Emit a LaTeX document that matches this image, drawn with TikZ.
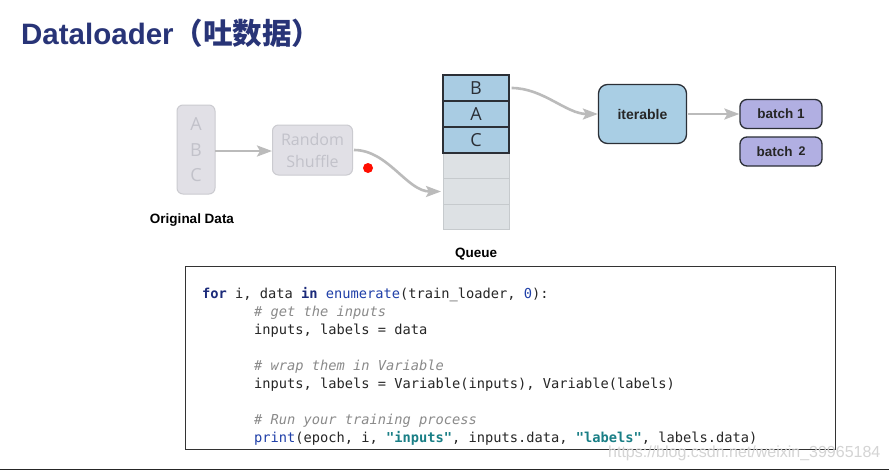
\documentclass[tikz,border=0pt]{standalone}
\usepackage{fontspec}
\setmainfont{Liberation Sans}
\newfontfamily\cjk{Noto Sans CJK SC}
\newfontfamily\codefont{DejaVu Sans Mono}
\newfontfamily\lettfont{Open Sans}
\usetikzlibrary{arrows.meta}
\definecolor{titlec}{HTML}{283477}
\definecolor{faintfill}{HTML}{E1E0E6}
\definecolor{faintdraw}{HTML}{CBCBD0}
\definecolor{fainttext}{HTML}{C2C2CA}
\definecolor{qblue}{HTML}{A9CCE3}
\definecolor{qgray}{HTML}{DDE1E4}
\definecolor{qgraydraw}{HTML}{C6CACD}
\definecolor{darkdraw}{HTML}{2B2F36}
\definecolor{itfill}{HTML}{A9CEE4}
\definecolor{batchfill}{HTML}{B1AFE2}
\definecolor{arrowc}{HTML}{BBBBBB}
\definecolor{kwc}{HTML}{1B2A7A}
\definecolor{fnc}{HTML}{1F3FA8}
\definecolor{cmc}{HTML}{8A8A8A}
\definecolor{strc}{HTML}{1A7F86}
\definecolor{wmark}{HTML}{D4D4D4}
\tikzset{
  faintbox/.style={draw=faintdraw, fill=faintfill, line width=1pt, rounded corners=6pt},
  qcell/.style={draw=darkdraw, fill=qblue, line width=1.1pt},
  qempty/.style={draw=qgraydraw, fill=qgray, line width=1pt},
  darkbox/.style={draw=darkdraw, line width=1.3pt, rounded corners=9pt},
  garrow/.style={draw=arrowc, line width=2.6pt, -{Stealth[length=15pt,width=11pt,inset=3pt]}},
  lbl/.style={font=\bfseries\fontsize{13.5}{15}\selectfont, inner sep=0pt},
  codeline/.style={anchor=base west, inner sep=0pt, font=\codefont\fontsize{13.7}{16}\selectfont, text=black!85},
}
\newcommand{\kw}[1]{\textcolor{kwc}{\bfseries #1}}
\newcommand{\fn}[1]{\textcolor{fnc}{#1}}
\newcommand{\cm}[1]{\textcolor{cmc}{\itshape #1}}
\newcommand{\st}[1]{\textcolor{strc}{\bfseries #1}}
\begin{document}
\begin{tikzpicture}[x=1pt,y=-1pt]
\useasboundingbox (0,0) rectangle (889,471);
\fill[white] (0,0) rectangle (889,471);

% title
\node[anchor=base west, inner sep=0pt, text=titlec, font=\bfseries\fontsize{29.5}{32}\selectfont] (title) at (21,44) {Dataloader{\cjk\bfseries （吐数据）}};

% original data
\draw[faintbox] (177,105) rectangle (215,194);
\node[inner sep=0pt, text=fainttext, font=\lettfont\fontsize{18}{20}\selectfont] (oA) at (196,124) {A};
\node[inner sep=0pt, text=fainttext, font=\lettfont\fontsize{18}{20}\selectfont] (oB) at (196,150) {B};
\node[inner sep=0pt, text=fainttext, font=\lettfont\fontsize{18}{20}\selectfont] (oC) at (196,175) {C};
\node[inner sep=0pt, minimum width=38pt, minimum height=89pt] (orig) at (196,149.5) {};
\node[lbl] (origlbl) at (192,220) {Original Data};

% random shuffle
\node[faintbox, minimum width=80pt, minimum height=50pt, inner sep=0pt, text=fainttext, align=center, font=\lettfont\fontsize{16}{22}\selectfont] (shuf) at (312.5,150) {Random\\Shuffle};

% queue
\node[qcell, minimum width=66pt, minimum height=26pt, inner sep=0pt, font=\lettfont\fontsize{18}{20}\selectfont, text=darkdraw] (qB) at (476,88) {B};
\node[qcell, minimum width=66pt, minimum height=26pt, inner sep=0pt, font=\lettfont\fontsize{18}{20}\selectfont, text=darkdraw] (qA) at (476,114) {A};
\node[qcell, minimum width=66pt, minimum height=25.5pt, inner sep=0pt, font=\lettfont\fontsize{18}{20}\selectfont, text=darkdraw] (qC) at (476,139.7) {C};
\node[qempty, minimum width=66pt, minimum height=26pt, inner sep=0pt] (q4) at (476,165.7) {};
\node[qempty, minimum width=66pt, minimum height=25.5pt, inner sep=0pt] (q5) at (476,191.5) {};
\node[qempty, minimum width=66pt, minimum height=25.5pt, inner sep=0pt] (q6) at (476,217) {};
\draw[qcell, fill=none] (qB.north west) rectangle (qC.south east);
\node[lbl] (qlbl) at (476,254) {Queue};

% iterable and batches
\node[darkbox, fill=itfill, minimum width=88pt, minimum height=59pt, inner sep=0pt, font=\bfseries\fontsize{14}{16}\selectfont, text=black!85] (iter) at (642.5,114) {iterable};
\node[darkbox, rounded corners=7pt, fill=batchfill, minimum width=82pt, minimum height=29pt, inner sep=0pt, font=\bfseries\fontsize{13.5}{15}\selectfont, text=black!85] (b1) at (781,114) {batch 1};
\node[darkbox, rounded corners=7pt, fill=batchfill, minimum width=82pt, minimum height=29pt, inner sep=0pt, font=\bfseries\fontsize{13.5}{15}\selectfont, text=black!85] (b2) at (781,151.5) {batch \,{\fontsize{12.5}{14}\selectfont\raisebox{1pt}{2}}};

% arrows
\draw[garrow] (orig.east |- 0,151) -- (shuf.west |- 0,151);
\coordinate (qin) at (441,191.5);
\draw[garrow] (shuf.east) ++(1,0) to[out=0, in=180, looseness=0.9] (qin);
\draw[garrow] (qB.east) ++(2,0) to[out=0, in=180, looseness=0.9] (iter.west);
\draw[garrow] (iter.east) ++(1,0) -- (b1.west);

% laser pointer dot
\fill[red!90!orange] (368,168) circle (5pt);

% code box
\draw[draw=black!80, line width=1pt] (185,266) rectangle (835,449.5);
\node[codeline] (c1) at (202,298) {\kw{for} i, data \kw{in} \fn{enumerate}(train\_loader, \fn{0}):};
\node[codeline] (c2) at (254,316) {\cm{\# get the inputs}};
\node[codeline] (c3) at (254,334) {inputs, labels = data};
\node[codeline] (c5) at (254,370) {\cm{\# wrap them in Variable}};
\node[codeline] (c6) at (254,388) {inputs, labels = Variable(inputs), Variable(labels)};
\node[codeline] (c8) at (254,424.5) {\cm{\# Run your training process}};
\node[codeline] (c9) at (254,442.5) {\fn{print}(epoch, i, \st{"inputs"}, inputs.data, \st{"labels"}, labels.data)};

% watermark
\node[anchor=base west, inner sep=0pt, text=wmark, font=\fontsize{16}{18}\selectfont] (wm) at (608,457.5) {https://blog.csdn.net/weixin\_39965184};

% bottom rule
\draw[black!85, line width=1.3pt] (0,469.5) -- (889,469.5);
\end{tikzpicture}
\end{document}
